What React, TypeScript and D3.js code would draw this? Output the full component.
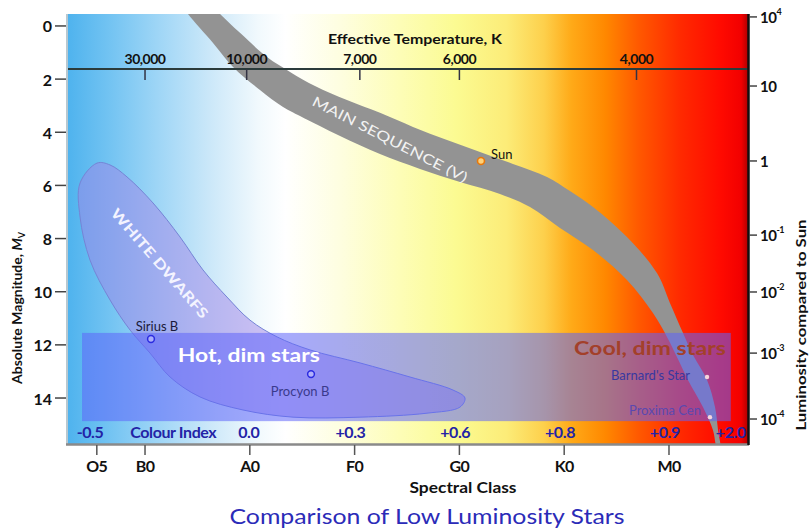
import React from "react";
import * as d3 from "d3";

// ---------- data (spectral position units, absolute magnitude) ----------
const spectralClasses = ["O5", "B0", "A0", "F0", "G0", "K0", "M0"];
const spectralPositions = [0.54, 1, 2, 3, 4, 5, 6];

const magnitudeTicks = [0, 2, 4, 6, 8, 10, 12, 14];

const temperatureLabels = ["30,000", "10,000", "7,000", "6,000", "4,000"];
const temperaturePositions = [1.0, 1.97, 3.05, 4.0, 5.69];

const colourIndexLabels = ["-0.5", "0.0", "+0.3", "+0.6", "+0.8", "+0.9", "+2.0"];
const colourIndexPositions = [0.475, 1.99, 2.96, 3.96, 4.96, 5.96, 6.59];

const luminosityBase = ["10", "10", "1", "10", "10", "10", "10"];
const luminosityExponent = ["4", "", "", "-1", "-2", "-3", "-4"];
const luminosityMagnitudes = [-0.34, 2.26, 5.08, 7.87, 10.01, 12.31, 14.79];

// main sequence band edges [spectral, magnitude]
const mainSequenceUpper: [number, number][] = [
  [1.62, -0.83], [1.716, -0.45], [1.906, 0.26], [2.164, 1.17], [2.384, 1.73],
  [2.622, 2.26], [2.927, 2.79], [3.242, 3.27], [3.557, 3.8], [3.882, 4.29],
  [4.197, 4.74], [4.511, 5.19], [4.836, 5.68], [5.055, 6.21], [5.275, 6.81],
  [5.599, 7.94], [5.885, 9.3], [6.01, 10.43], [6.134, 11.55], [6.229, 12.38],
  [6.363, 13.32], [6.439, 14.34], [6.468, 15.21], [6.487, 15.85],
];
const mainSequenceLower: [number, number][] = [
  [1.344, -0.83], [1.41, -0.45], [1.649, 0.64], [1.84, 1.54], [2.097, 2.41],
  [2.317, 3.05], [2.479, 3.39], [2.861, 4.14], [3.242, 4.82], [3.624, 5.38],
  [4.006, 5.87], [4.387, 6.32], [4.674, 6.81], [4.96, 7.6], [5.275, 8.43],
  [5.599, 9.56], [5.847, 10.8], [5.981, 11.7], [6.076, 12.46], [6.181, 13.32],
  [6.324, 14.34], [6.42, 15.21], [6.458, 15.85],
];

// white dwarf region outline [spectral, magnitude]
const whiteDwarfOutline: [number, number][] = [
  [0.542, 5.16], [0.38, 5.91], [0.38, 7.19], [0.475, 8.81], [0.666, 10.31],
  [0.857, 11.44], [1.048, 12.31], [1.239, 13.21], [1.525, 13.96], [1.935, 14.45],
  [2.412, 14.72], [3.052, 14.72], [3.691, 14.57], [4.006, 14.34], [4.053, 14.0],
  [3.939, 13.7], [3.529, 13.21], [3.052, 12.68], [2.574, 12.19], [2.26, 11.7],
  [2.002, 11.07], [1.782, 10.2], [1.553, 9.18], [1.334, 7.94], [1.076, 6.66],
  [0.828, 5.68], [0.666, 5.23],
];

// low luminosity band [spectral from, spectral to], [magnitude from, magnitude to]
const lowLumSpectral = [0.399, 6.59];
const lowLumMagnitude = [11.55, 14.87];

// stars
const starNames = ["Sun", "Sirius B", "Procyon B", "Barnard's Star", "Proxima Cen"];
const starSpectral = [4.206, 1.057, 2.584, 6.363, 6.391];
const starMagnitude = [5.08, 11.78, 13.1, 13.21, 14.72];

const FONT = "Lato, 'Open Sans', sans-serif";

export default function App() {
  const W = 812;
  const H = 530;
  const plot = { left: 68, right: 748, top: 14, bottom: 444 };

  const x = d3.scaleLinear().domain([0.265, 6.754]).range([plot.left, plot.right]);
  const y = d3.scaleLinear().domain([-0.45, 15.73]).range([plot.top, plot.bottom]);
  const toXY = (d: [number, number]): [number, number] => [x(d[0]), y(d[1])];

  const closedCurve = d3.line().curve(d3.curveCatmullRomClosed.alpha(0.5));
  const msPath = closedCurve(
    mainSequenceUpper.map(toXY).concat(mainSequenceLower.slice().reverse().map(toXY))
  ) as string;
  const wdPath = closedCurve(whiteDwarfOutline.map(toXY)) as string;

  const bgStops: [number, string][] = [
    [0, "#4fb3ee"],
    [0.06, "#72c3f2"],
    [0.13, "#9dd5f6"],
    [0.21, "#cce8f9"],
    [0.28, "#f1f9fd"],
    [0.32, "#ffffff"],
    [0.4, "#fefee0"],
    [0.49, "#fdfdb6"],
    [0.57, "#fbfb92"],
    [0.645, "#fcec78"],
    [0.7, "#fdd04c"],
    [0.74, "#ffaa18"],
    [0.79, "#ff8800"],
    [0.84, "#ff5800"],
    [0.9, "#ff2a00"],
    [0.96, "#ff0a00"],
    [0.99, "#f20000"],
    [1, "#b00000"],
  ];

  const starStyle = [
    { r: 3.5, fill: "#ffd27a", stroke: "#e8780a", sw: 1.6 },
    { r: 3.4, fill: "rgba(200,200,255,0.6)", stroke: "#2b2be0", sw: 1.5 },
    { r: 3.4, fill: "rgba(200,200,255,0.6)", stroke: "#2b2be0", sw: 1.5 },
    { r: 2.2, fill: "#f6d4dc", stroke: "none", sw: 0 },
    { r: 2.2, fill: "#f6d4dc", stroke: "none", sw: 0 },
  ];
  const starLabel = [
    { dx: 10, dy: -2, anchor: "start", color: "#111", size: 13 },
    { dx: 6, dy: -8, anchor: "middle", color: "#1a1a3a", size: 13 },
    { dx: -11, dy: 22, anchor: "middle", color: "#3a3a8c", size: 13 },
    { dx: -17, dy: 3, anchor: "end", color: "#3838a0", size: 13 },
    { dx: -9, dy: -2, anchor: "end", color: "#5a48b0", size: 13 },
  ];

  return (
    <svg
      width={W}
      height={H}
      style={{ position: "absolute", left: 0, top: 0, display: "block", background: "#fff" }}
      fontFamily={FONT}
    >
      <defs>
        <linearGradient id="bg" gradientUnits="userSpaceOnUse" x1={plot.left} x2={plot.right} y1={0} y2={0}>
          {bgStops.map(([o, c], i) => (
            <stop key={i} offset={o} stopColor={c} />
          ))}
        </linearGradient>
        <clipPath id="plotClip">
          <rect x={plot.left} y={plot.top} width={plot.right - plot.left} height={plot.bottom - plot.top} />
        </clipPath>
      </defs>

      <rect x={plot.left} y={plot.top} width={plot.right - plot.left} height={plot.bottom - plot.top} fill="url(#bg)" />

      <g clipPath="url(#plotClip)">
        <path d={msPath} fill="#939393" />
        <path d={wdPath} fill="rgba(160,132,232,0.5)" stroke="#7584d6" strokeWidth={1} />
        <rect
          x={x(lowLumSpectral[0])}
          y={y(lowLumMagnitude[0])}
          width={x(lowLumSpectral[1]) - x(lowLumSpectral[0])}
          height={y(lowLumMagnitude[1]) - y(lowLumMagnitude[0])}
          fill="rgba(95,100,250,0.55)"
        />
      </g>

      {/* region labels */}
      <text
        transform={`translate(${x(3.338)},${y(4.25)}) rotate(27)`}
        textAnchor="middle"
        dominantBaseline="central"
        fill="#f2f2f2"
        fontSize={14}
        textLength={172}
        lengthAdjust="spacingAndGlyphs"
      >
        MAIN SEQUENCE (V)
      </text>
      <text
        transform={`translate(${x(1.143)},${y(8.92)}) rotate(49)`}
        textAnchor="middle"
        dominantBaseline="central"
        fill="#f4f4ff"
        fontSize={14}
        fontWeight="bold"
        textLength={140}
        lengthAdjust="spacingAndGlyphs"
      >
        WHITE DWARFS
      </text>
      <text x={x(1.99)} y={y(12.65)} textAnchor="middle" fill="#ffffff" fontSize={18} fontWeight="bold" textLength={142} lengthAdjust="spacingAndGlyphs">
        Hot, dim stars
      </text>
      <text x={x(6.544)} y={y(12.38)} textAnchor="end" fill="#a3402a" fontSize={18} fontWeight="bold" textLength={152} lengthAdjust="spacingAndGlyphs">
        Cool, dim stars
      </text>

      {/* stars */}
      {starNames.map((name, i) => {
        const cx = x(starSpectral[i]);
        const cy = y(starMagnitude[i]);
        const s = starStyle[i];
        const l = starLabel[i];
        return (
          <g key={name}>
            <circle cx={cx} cy={cy} r={s.r} fill={s.fill} stroke={s.stroke} strokeWidth={s.sw} />
            <text x={cx + l.dx} y={cy + l.dy} textAnchor={l.anchor as any} fill={l.color} fontSize={l.size}>
              {name}
            </text>
          </g>
        );
      })}

      {/* colour index row */}
      <text x={x(1.27)} y={438} textAnchor="middle" fill="#2323a6" fontSize={16} fontWeight="bold" letterSpacing={-0.4}>
        Colour Index
      </text>
      {colourIndexLabels.map((t, i) => (
        <text key={t} x={x(colourIndexPositions[i])} y={438} textAnchor="middle" fill="#2323a6" fontSize={16} fontWeight="bold" letterSpacing={-0.4}>
          {t}
        </text>
      ))}

      {/* temperature axis */}
      <line x1={plot.left} x2={plot.right} y1={69} y2={69} stroke="#2b3b3b" strokeWidth={2} />
      {temperatureLabels.map((t, i) => (
        <g key={t}>
          <line x1={x(temperaturePositions[i])} x2={x(temperaturePositions[i])} y1={69} y2={80} stroke="#334" strokeWidth={1.5} />
          <text x={x(temperaturePositions[i])} y={64} textAnchor="middle" fill="#111" fontSize={14} fontWeight="bold" letterSpacing={-0.5}>
            {t}
          </text>
        </g>
      ))}
      <text x={415} y={44} textAnchor="middle" fill="#111" fontSize={14} fontWeight="bold" textLength={174} lengthAdjust="spacingAndGlyphs">
        Effective Temperature, K
      </text>

      {/* frame */}
      <line x1={67} x2={67} y1={plot.top} y2={plot.bottom} stroke="#b8c8d0" strokeWidth={2} />
      <line x1={66} x2={749} y1={444.5} y2={444.5} stroke="#8a8a8a" strokeWidth={2.5} />
      <line x1={748.5} x2={748.5} y1={plot.top} y2={plot.bottom + 1} stroke="#111" strokeWidth={2.5} />

      {/* left axis */}
      {magnitudeTicks.map((m) => (
        <g key={m}>
          <line x1={55} x2={66} y1={y(m)} y2={y(m)} stroke="#444" strokeWidth={1.5} />
          <text x={52} y={y(m)} textAnchor="end" dominantBaseline="central" fill="#111" fontSize={16} fontWeight="bold">
            {m}
          </text>
        </g>
      ))}
      <text
        transform={`translate(22,308) rotate(-90)`}
        textAnchor="middle"
        fill="#111"
        fontSize={14}
        fontWeight="bold"
      >
        Absolute Magnitude, <tspan fontStyle="italic">M</tspan>
        <tspan fontSize={9} dy={3}>V</tspan>
      </text>

      {/* right axis */}
      {luminosityMagnitudes.map((m, i) => (
        <g key={i}>
          <line x1={749} x2={757} y1={y(m)} y2={y(m)} stroke="#444" strokeWidth={1.5} />
          <text x={760} y={y(m)} dominantBaseline="central" fill="#111" fontSize={15} fontWeight="bold" letterSpacing={-0.5}>
            {luminosityBase[i]}
            {luminosityExponent[i] && (
              <tspan fontSize={9} dy={-6}>
                {luminosityExponent[i]}
              </tspan>
            )}
          </text>
        </g>
      ))}
      <text
        transform={`translate(806,325) rotate(-90)`}
        textAnchor="middle"
        fill="#111"
        fontSize={14}
        fontWeight="bold"
        textLength={211}
        lengthAdjust="spacingAndGlyphs"
      >
        Luminosity compared to Sun
      </text>

      {/* spectral class axis */}
      {spectralClasses.map((c, i) => (
        <g key={c}>
          <line x1={x(spectralPositions[i])} x2={x(spectralPositions[i])} y1={445} y2={455} stroke="#555" strokeWidth={1.5} />
          <text x={x(spectralPositions[i])} y={472} textAnchor="middle" fill="#111" fontSize={16} fontWeight="bold" letterSpacing={-0.6}>
            {c}
          </text>
        </g>
      ))}
      <text x={463} y={493} textAnchor="middle" fill="#111" fontSize={15} fontWeight="bold" textLength={107} lengthAdjust="spacingAndGlyphs">
        Spectral Class
      </text>

      <text x={427} y={524} textAnchor="middle" fill="#2b2bb8" fontSize={22} textLength={395} lengthAdjust="spacingAndGlyphs">
        Comparison of Low Luminosity Stars
      </text>
    </svg>
  );
}
